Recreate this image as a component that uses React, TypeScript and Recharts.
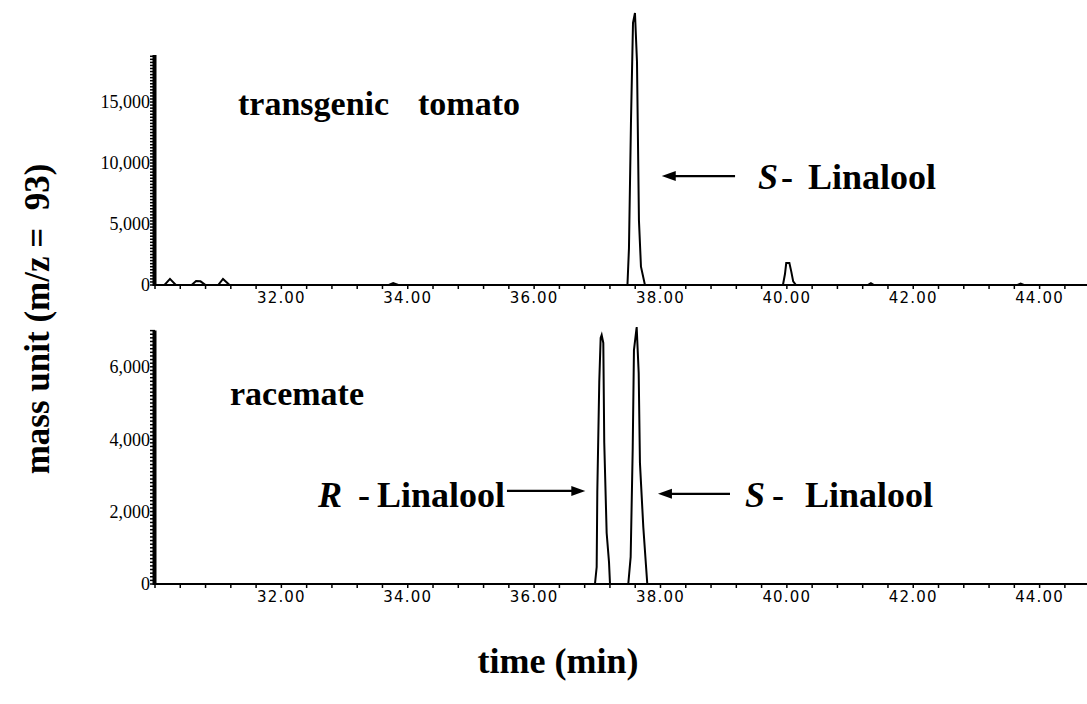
import React from 'react';
import { LineChart, Line, XAxis, YAxis, ReferenceLine } from 'recharts';

// ---- data (time in min, abundance in mass units) ----
const tomatoTime = [
  30.0, 30.15, 30.237, 30.33, 30.58, 30.65, 30.72, 30.8, 31.0, 31.076, 31.18,
  33.7, 33.77, 33.85,
  37.477, 37.501, 37.533, 37.565, 37.596, 37.628, 37.659, 37.691, 37.754,
  39.938, 39.97, 39.99, 40.04, 40.07, 40.1, 40.144,
  41.28, 41.33, 41.38, 43.65, 43.7, 43.75, 44.75,
];
const tomatoSignal = [
  0, 0, 500, 0, 0, 330, 300, 0, 0, 500, 0,
  0, 150, 0,
  0, 3000, 13400, 21500, 22300, 18300, 5300, 1500, 0,
  0, 900, 1800, 1800, 1100, 300, 0,
  0, 150, 0, 0, 120, 0, 0,
];

const racemateTime = [
  30.0,
  36.963, 36.99, 37.0, 37.031, 37.053, 37.069, 37.095, 37.11, 37.148, 37.185, 37.201,
  37.49, 37.528, 37.56, 37.58, 37.623, 37.655, 37.675, 37.728, 37.77, 37.791,
  44.75,
];
const racemateSignal = [
  0,
  0, 470, 2540, 5580, 6800, 6880, 6660, 3900, 1410, 610, 0,
  0, 750, 3700, 6460, 7100, 5830, 3340, 1570, 520, 0,
  0,
];

const xLabelValues = [32, 34, 36, 38, 40, 42, 44];
const xTickLabels = ['32.00', '34.00', '36.00', '38.00', '40.00', '42.00', '44.00'];
const topYLabelValues = [0, 5000, 10000, 15000];
const topYTickLabels = ['0', '5,000', '10,000', '15,000'];
const bottomYLabelValues = [0, 2000, 4000, 6000];
const bottomYTickLabels = ['0', '2,000', '4,000', '6,000'];

const xDomain: [number, number] = [30, 44.75];
const topYMax = 22300;
const topAxisTop = 18850;
const bottomYMax = 7100;
const bottomAxisTop = 7000;

const tomatoData = tomatoTime.map((t, i) => ({ t, v: tomatoSignal[i] }));
const racemateData = racemateTime.map((t, i) => ({ t, v: racemateSignal[i] }));

const xMinorTicks = Array.from({ length: 37 }, (_, k) => Math.round((30 + 0.4 * k) * 100) / 100);
const topYTicks = Array.from({ length: 76 }, (_, k) => k * 250);
const bottomYTicks = Array.from({ length: 71 }, (_, k) => k * 100);

const XTick = (props: any) => {
  const { x, y, payload } = props;
  const idx = xLabelValues.findIndex((v) => Math.abs(v - payload.value) < 1e-6);
  if (idx < 0) return <g />;
  return (
    <text x={x} y={y} dy="0.71em" textAnchor="middle" fontFamily="DejaVu Sans" fontSize={15}
      letterSpacing={1.2} fill="#000">{xTickLabels[idx]}</text>
  );
};

const makeYTick = (values: number[], labels: string[]) => (props: any) => {
  const { x, y, payload } = props;
  const idx = values.findIndex((v) => Math.abs(v - payload.value) < 1e-6);
  if (idx < 0) return <g />;
  return (
    <text x={x} y={y} dy="0.35em" textAnchor="end" fontFamily="Liberation Serif" fontSize={18}
      fill="#000">{labels[idx]}</text>
  );
};
const TopYTick = makeYTick(topYLabelValues, topYTickLabels);
const BottomYTick = makeYTick(bottomYLabelValues, bottomYTickLabels);

const Arrow = (props: any) => {
  const { x1, y1, x2, y2 } = props;
  const dx = x2 - x1;
  const dy = y2 - y1;
  const len = Math.hypot(dx, dy) || 1;
  const ux = dx / len;
  const uy = dy / len;
  const hl = 14;
  const hw = 5;
  const bx = x2 - ux * hl;
  const by = y2 - uy * hl;
  return (
    <g>
      <line x1={x1} y1={y1} x2={bx + ux * 2} y2={by + uy * 2} stroke="#000" strokeWidth={2.2} />
      <polygon points={`${x2},${y2} ${bx - uy * hw},${by + ux * hw} ${bx + uy * hw},${by - ux * hw}`} fill="#000" />
    </g>
  );
};

const AxisBar = (props: any) => {
  const { x1, y1, x2, y2 } = props;
  return <line x1={x1 - 0.5} y1={y1 + 1} x2={x2 - 0.5} y2={y2} stroke="#000" strokeWidth={4} />;
};

export default function App() {
  const bold = { fontFamily: 'Liberation Serif', fontWeight: 700 as const };
  return (
    <div style={{ position: 'absolute', left: 0, top: 0, width: 1087, height: 704, background: '#fff', overflow: 'hidden' }}>
      <div style={{ position: 'absolute', left: 0, top: 0 }}>
        <LineChart width={1087} height={310} data={tomatoData} margin={{ top: 13, right: 0, bottom: 0, left: 0 }}>
          <XAxis dataKey="t" type="number" domain={xDomain} ticks={xMinorTicks} interval={0}
            axisLine={{ stroke: '#000', strokeWidth: 2 }} tickLine={{ stroke: '#000', strokeWidth: 1.5 }}
            tickSize={4} tickMargin={3} height={25} tick={<XTick />} />
          <YAxis type="number" domain={[0, topYMax]} ticks={topYTicks} interval={0} width={155}
            axisLine={false} tickLine={{ stroke: '#000', strokeWidth: 1.5 }} tickSize={5} tickMargin={0}
            tick={<TopYTick />} />
          <ReferenceLine segment={[{ x: 30, y: 0 }, { x: 30, y: topAxisTop }]} stroke="#000" strokeWidth={4} shape={AxisBar} ifOverflow="visible" />
          <Line dataKey="v" type="linear" stroke="#000" strokeWidth={2} dot={false} isAnimationActive={false} />
          <ReferenceLine segment={[{ x: 39.18, y: 8930 }, { x: 38.02, y: 8930 }]} shape={Arrow} ifOverflow="visible" />
        </LineChart>
      </div>
      <div style={{ position: 'absolute', left: 0, top: 310 }}>
        <LineChart width={1087} height={299} data={racemateData} margin={{ top: 17, right: 0, bottom: 0, left: 0 }}>
          <XAxis dataKey="t" type="number" domain={xDomain} ticks={xMinorTicks} interval={0}
            axisLine={{ stroke: '#000', strokeWidth: 2 }} tickLine={{ stroke: '#000', strokeWidth: 1.5 }}
            tickSize={4} tickMargin={3} height={25} tick={<XTick />} />
          <YAxis type="number" domain={[0, bottomYMax]} ticks={bottomYTicks} interval={0} width={155}
            axisLine={false} tickLine={{ stroke: '#000', strokeWidth: 1.5 }} tickSize={5} tickMargin={0}
            tick={<BottomYTick />} />
          <ReferenceLine segment={[{ x: 30, y: 0 }, { x: 30, y: bottomAxisTop }]} stroke="#000" strokeWidth={4} shape={AxisBar} ifOverflow="visible" />
          <Line dataKey="v" type="linear" stroke="#000" strokeWidth={2} dot={false} isAnimationActive={false} />
          <ReferenceLine segment={[{ x: 35.57, y: 2570 }, { x: 36.81, y: 2570 }]} shape={Arrow} ifOverflow="visible" />
          <ReferenceLine segment={[{ x: 39.10, y: 2490 }, { x: 37.96, y: 2490 }]} shape={Arrow} ifOverflow="visible" />
        </LineChart>
      </div>
      <svg width={1087} height={704} style={{ position: 'absolute', left: 0, top: 0, pointerEvents: 'none' }}>
        <g {...bold} fill="#000">
          <text x={238} y={115} fontSize={34}>transgenic</text>
          <text x={418} y={115} fontSize={34}>tomato</text>
          <text x={758} y={189} fontSize={36} fontStyle="italic">S</text>
          <text x={781} y={189} fontSize={36}>-</text>
          <text x={808} y={189} fontSize={36}>Linalool</text>
          <text x={230} y={405} fontSize={34}>racemate</text>
          <text x={318} y={507} fontSize={36} fontStyle="italic">R</text>
          <text x={358} y={507} fontSize={36}>-</text>
          <text x={377} y={507} fontSize={36}>Linalool</text>
          <text x={745} y={507} fontSize={36} fontStyle="italic">S</text>
          <text x={772} y={507} fontSize={36}>-</text>
          <text x={805} y={507} fontSize={36}>Linalool</text>
          <text x={558} y={673} fontSize={36} textAnchor="middle">time (min)</text>
          <text transform="translate(49,319) rotate(-90)" x={0} y={0} fontSize={35} textAnchor="middle" style={{ whiteSpace: 'pre' }}>{'mass unit (m/z =  93)'}</text>
        </g>
      </svg>
    </div>
  );
}
